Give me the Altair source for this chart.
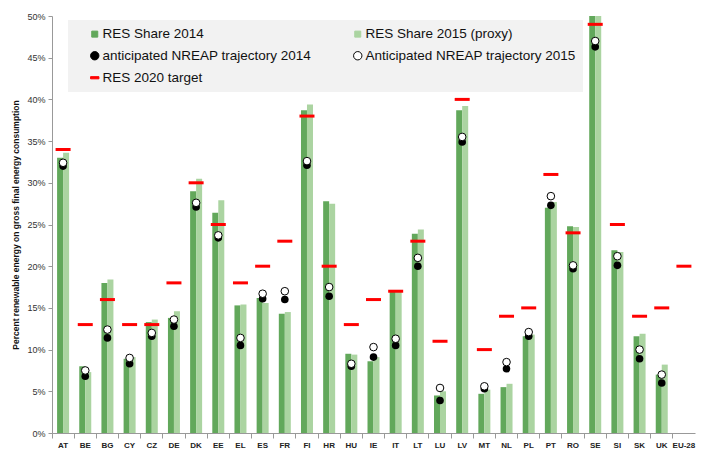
import altair as alt
import pandas as pd

countries = ["AT","BE","BG","CY","CZ","DE","DK","EE","EL","ES","FR","FI","HR","HU",
             "IE","IT","LT","LU","LV","MT","NL","PL","PT","RO","SE","SI","SK","UK","EU-28"]
res2014 = [33.0, 8.0, 18.0, 8.9, 13.3, 13.8, 29.0, 26.4, 15.3, 16.2, 14.3, 38.7, 27.8, 9.5,
           8.6, 17.1, 23.9, 4.5, 38.7, 4.7, 5.5, 11.6, 27.0, 24.8, 52.6, 21.9, 11.6, 7.0, None]
res2015 = [33.6, 7.3, 18.4, 9.1, 13.6, 14.6, 30.5, 27.9, 15.4, 15.6, 14.5, 39.4, 27.5, 9.4,
           9.1, 17.1, 24.4, 5.0, 39.2, 5.2, 5.9, 11.8, 27.7, 24.7, 53.9, 21.7, 11.9, 8.2, None]
traj2014 = [32.0, 6.8, 11.4, 8.3, 11.6, 12.8, 27.1, 23.4, 10.5, 16.1, 16.0, 32.1, 16.4, 8.0,
            9.1, 10.5, 20.0, 3.9, 34.9, 5.3, 7.7, 11.6, 27.3, 19.7, 46.3, 20.1, 8.9, 6.0, None]
traj2015 = [32.4, 7.5, 12.4, 9.0, 12.0, 13.6, 27.6, 23.7, 11.4, 16.7, 17.0, 32.6, 17.5, 8.3,
            10.3, 11.3, 21.0, 5.4, 35.5, 5.6, 8.5, 12.1, 28.4, 20.1, 47.0, 21.2, 10.0, 7.0, None]
target2020 = [34, 13, 16, 13, 13, 18, 30, 25, 18, 20, 23, 38, 20, 13,
              16, 17, 23, 11, 40, 10, 14, 15, 31, 24, 49, 25, 14, 15, 20]

series_names = ["RES Share 2014", "RES Share 2015 (proxy)", "anticipated NREAP trajectory 2014",
                "Anticipated NREAP trajectory 2015", "RES 2020 target"]

DARK = "#62a85b"
LIGHT = "#abd4a1"
RED = "#ff0000"

df = pd.DataFrame({
    "country": countries,
    "r14": [None if v is None else v / 100 for v in res2014],
    "r15": [None if v is None else v / 100 for v in res2015],
    "t14": [None if v is None else v / 100 for v in traj2014],
    "t15": [None if v is None else v / 100 for v in traj2015],
    "tgt": [v / 100 for v in target2020],
})
leg_df = pd.DataFrame({"series": series_names, "country": ["AT"] * 5, "v": [-1.0] * 5})

x = alt.X("country:N", sort=countries,
          scale=alt.Scale(paddingInner=0, paddingOuter=0),
          axis=alt.Axis(title=None, labelAngle=0, labelFont="Liberation Sans", labelFontSize=8,
                        labelFontWeight="bold", labelColor="#222", bandPosition=0,
                        tickSize=5, tickColor="#999", domainColor="#999", labelPadding=3))
yscale = alt.Scale(domain=[0, 0.5], nice=False)
yaxis = alt.Axis(title="Percent renewable energy on gross final energy consumption",
                 format=".0%", values=[i / 100 for i in range(0, 51, 5)], grid=False,
                 labelFont="Liberation Sans", labelFontSize=9, labelColor="#333",
                 titleFont="Liberation Sans", titleFontSize=8.5, titleFontWeight="bold",
                 titleColor="#111", tickSize=4, tickColor="#999", domainColor="#999",
                 labelPadding=3, titlePadding=6)

base = alt.Chart(df)

b14 = base.mark_bar(width=6, xOffset=-3, color=DARK, clip=True).encode(
    x=x, y=alt.Y("r14:Q", scale=yscale, axis=yaxis))
b15 = base.mark_bar(width=6, xOffset=3, color=LIGHT, clip=True).encode(
    x=x, y=alt.Y("r15:Q", scale=yscale))
tg = base.mark_tick(color=RED, thickness=3, size=15, opacity=1).encode(
    x=x, y=alt.Y("tgt:Q", scale=yscale))
d14 = base.mark_point(filled=True, color="black", size=58, opacity=1).encode(
    x=x, y=alt.Y("t14:Q", scale=yscale))
d15 = base.mark_point(filled=True, fill="white", stroke="black", strokeWidth=1, size=58,
                      opacity=1).encode(x=x, y=alt.Y("t15:Q", scale=yscale))

SQ = "M-0.72,-0.72H0.72V0.72H-0.72Z"
leg = alt.Chart(leg_df).mark_point(filled=True, opacity=1, clip=True, strokeWidth=1).encode(
    x=x, y=alt.Y("v:Q", scale=yscale),
    fill=alt.Fill("series:N", scale=alt.Scale(domain=series_names,
                                              range=[DARK, LIGHT, "black", "white", RED]),
                  legend=alt.Legend(title=None)),
    stroke=alt.Stroke("series:N", scale=alt.Scale(domain=series_names,
                                                  range=[DARK, LIGHT, "black", "black", RED]),
                      legend=alt.Legend(title=None)),
    shape=alt.Shape("series:N", scale=alt.Scale(domain=series_names,
                                                range=[SQ, SQ, "circle", "circle",
                                                       "M-1,-0.26H1V0.26H-1Z"]),
                    legend=alt.Legend(title=None)),
)

chart = alt.layer(b14, b15, tg, d14, d15, leg).properties(
    width=643, height=417,
    autosize=alt.AutoSizeParams(type="none"),
    padding={"left": 44, "top": 8, "right": 2, "bottom": 20},
).configure_view(stroke=None).configure_legend(
    orient="none", legendX=16, legendY=4, columns=2, direction="horizontal",
    fillColor="#f2f2f2", padding=7, columnPadding=26, rowPadding=7,
    labelFont="Liberation Sans", labelFontSize=13.5, labelColor="#111", labelLimit=400,
    symbolSize=70, symbolStrokeWidth=1, symbolOffset=13, labelOffset=1,
    symbolType="square",
)

chart.save("out.html", embed_options={"renderer": "svg", "actions": False})
